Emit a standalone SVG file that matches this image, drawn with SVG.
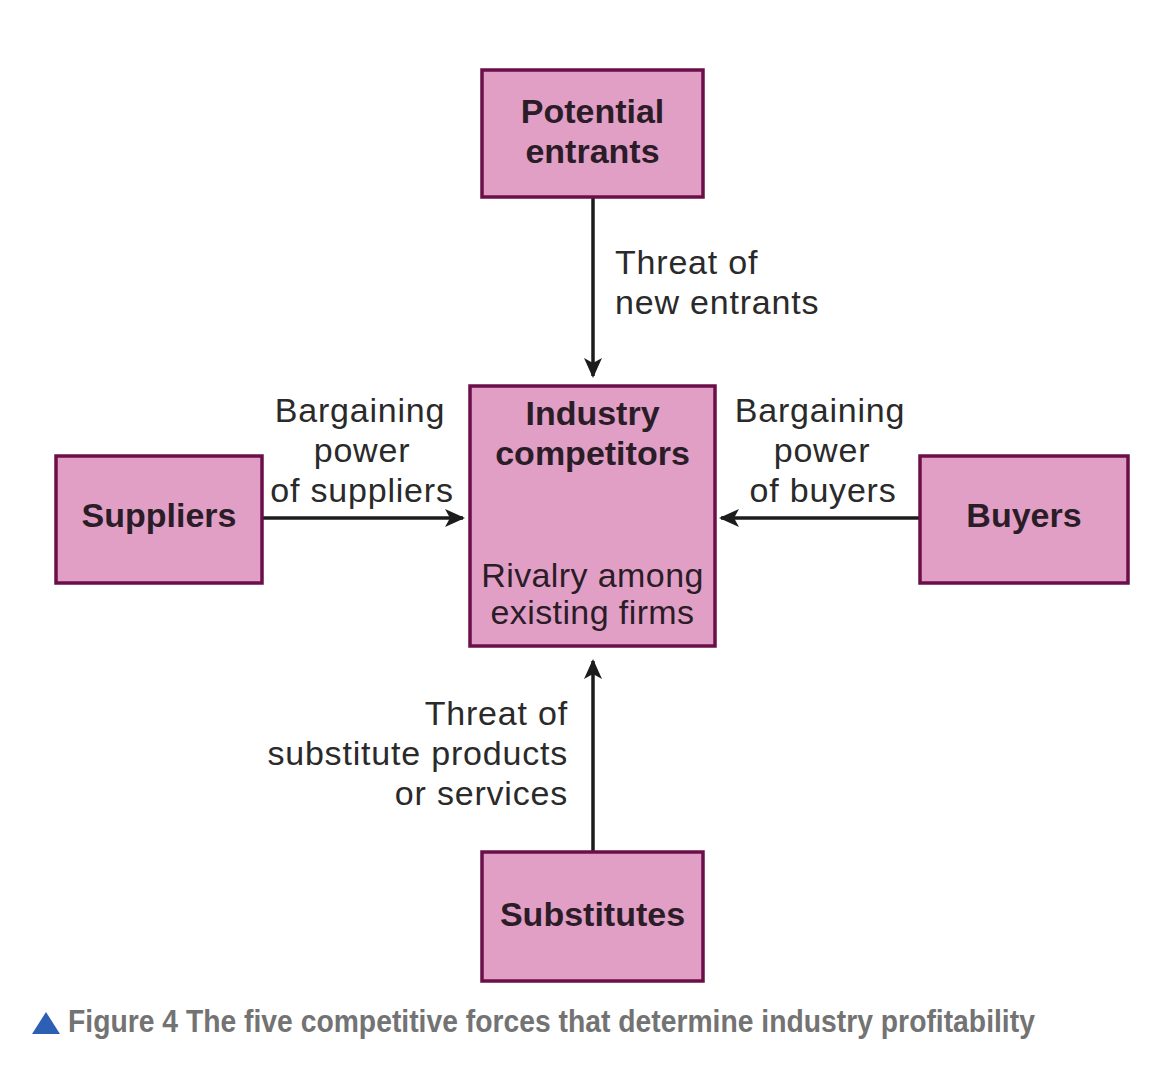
<svg xmlns="http://www.w3.org/2000/svg" width="1162" height="1086" viewBox="0 0 1162 1086">
<style>
.box{fill:#e29fc6;stroke:#6b0f4a;stroke-width:3.5}
.bt{font-family:"Liberation Sans",Arial,sans-serif;font-weight:bold;font-size:34px;fill:#2b1d27;text-anchor:middle}
.lt{font-family:"Liberation Sans",Arial,sans-serif;font-size:34px;fill:#2a2a2a;letter-spacing:0.8px}
.in{font-family:"Liberation Sans",Arial,sans-serif;font-size:34px;fill:#2b1d27;text-anchor:middle;letter-spacing:0.4px}
.c{stroke:#1c1c1c;stroke-width:3.5;fill:none}
.cap{font-family:"Liberation Sans",Arial,sans-serif;font-weight:bold;font-size:31px;fill:#737373}
</style>
<defs>
<marker id="ah" viewBox="0 0 20 18" refX="18" refY="9" markerWidth="20" markerHeight="18" markerUnits="userSpaceOnUse" orient="auto">
<path d="M0,0 L20,9 L0,18 L5,9 Z" fill="#1c1c1c"/>
</marker>
</defs>
<rect width="1162" height="1086" fill="#ffffff"/>
<g id="connectors">
<line class="c" x1="593" y1="197" x2="593" y2="376" marker-end="url(#ah)"/>
<line class="c" x1="262" y1="518" x2="463" y2="518" marker-end="url(#ah)"/>
<line class="c" x1="920" y1="518" x2="721" y2="518" marker-end="url(#ah)"/>
<line class="c" x1="593" y1="852" x2="593" y2="661" marker-end="url(#ah)"/>
</g>
<g id="labels">
<text class="lt" x="615" y="274">Threat of</text>
<text class="lt" x="615" y="314">new entrants</text>
<text class="lt" x="360" y="422" text-anchor="middle">Bargaining</text>
<text class="lt" x="362" y="462" text-anchor="middle">power</text>
<text class="lt" x="362" y="502" text-anchor="middle">of suppliers</text>
<text class="lt" x="820" y="422" text-anchor="middle">Bargaining</text>
<text class="lt" x="822" y="462" text-anchor="middle">power</text>
<text class="lt" x="823" y="502" text-anchor="middle">of buyers</text>
<text class="lt" x="568" y="725" text-anchor="end">Threat of</text>
<text class="lt" x="568" y="765" text-anchor="end">substitute products</text>
<text class="lt" x="568" y="805" text-anchor="end">or services</text>
</g>
<g id="potential-entrants">
<rect class="box" x="482" y="70" width="221" height="127"/>
<text class="bt" x="592.5" y="123">Potential</text>
<text class="bt" x="592.5" y="163">entrants</text>
</g>
<g id="industry-competitors">
<rect class="box" x="470" y="386" width="245" height="260"/>
<text class="bt" x="592.5" y="425">Industry</text>
<text class="bt" x="592.5" y="465">competitors</text>
<text class="in" x="592.5" y="587">Rivalry among</text>
<text class="in" x="592.5" y="624">existing firms</text>
</g>
<g id="suppliers">
<rect class="box" x="56" y="456" width="206" height="127"/>
<text class="bt" x="159" y="527">Suppliers</text>
</g>
<g id="buyers">
<rect class="box" x="920" y="456" width="208" height="127"/>
<text class="bt" x="1024" y="527">Buyers</text>
</g>
<g id="substitutes">
<rect class="box" x="482" y="852" width="221" height="129"/>
<text class="bt" x="592.5" y="926">Substitutes</text>
</g>
<g id="caption">
<path d="M46,1012 L60,1034 L32,1034 Z" fill="#2d5fb5"/>
<text class="cap" transform="translate(68,1032) scale(0.913,1)" x="0" y="0">Figure 4 The five competitive forces that determine industry profitability</text>
</g>
</svg>
